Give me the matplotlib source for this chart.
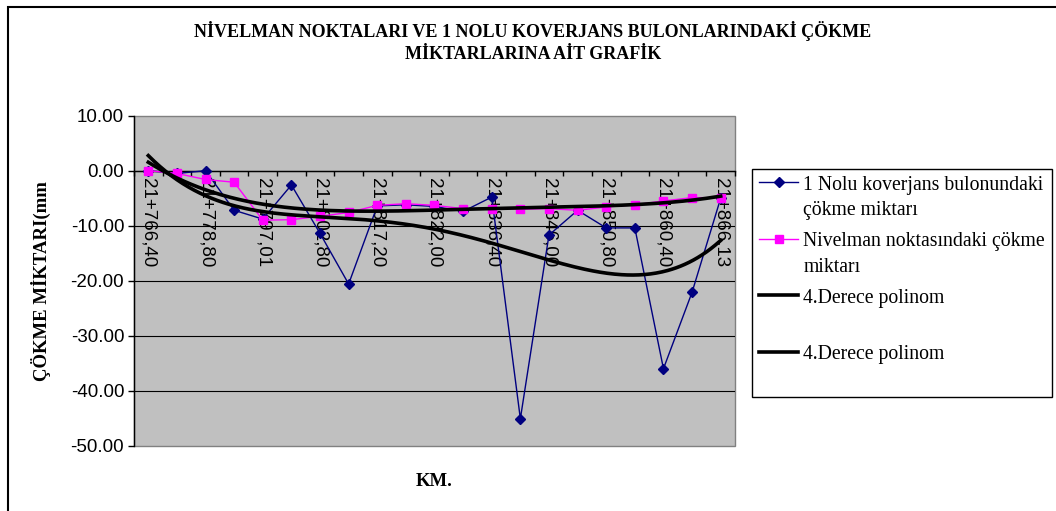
import numpy as np
import matplotlib
matplotlib.use("Agg")
import matplotlib.pyplot as plt
from matplotlib.lines import Line2D
from matplotlib.legend_handler import HandlerLine2D
from matplotlib.patches import Rectangle

# ---------------- data ----------------
km_labels = ["21+766,40", "21+778,80", "21+797,01", "21+802,80", "21+817,20",
             "21+822,00", "21+836,40", "21+846,00", "21+850,80", "21+860,40",
             "21+866,13"]
label_step = 2  # every second measuring point is labelled

bulon_cokme = [0.0, -0.5, 0.0, -7.2, -8.8, -2.6, -11.4, -20.6, -6.4, -6.2, -6.5,
               -7.4, -4.8, -45.1, -11.7, -7.2, -10.4, -10.4, -36.0, -22.1, -5.0]
nivelman_cokme = [0.0, -0.5, -1.6, -2.1, -9.0, -8.9, -8.3, -7.6, -6.3, -6.0, -6.3,
                  -6.9, -6.9, -7.0, -6.9, -7.2, -6.6, -6.2, -5.5, -4.9, -4.9]
poly_degree = 4

y_ticks = [10, 0, -10, -20, -30, -40, -50]

title_text = ("NİVELMAN NOKTALARI VE 1 NOLU KOVERJANS BULONLARINDAKİ ÇÖKME\n"
              "MİKTARLARINA AİT GRAFİK")
y_label = "ÇÖKME MİKTARI(mm"
x_label = "KM."
legend_labels = ["1 Nolu koverjans bulonundaki\nçökme miktarı",
                 "Nivelman noktasındaki çökme\nmiktarı",
                 "4.Derece polinom\n ",
                 "4.Derece polinom\n "]

# ---------------- figure ----------------
W, H = 1056, 511
fig = plt.figure(figsize=(W / 100, H / 100), dpi=100)
fig.patch.set_facecolor("white")


def fx(px):
    return px / W


def fy(py):
    return 1 - py / H


SERIF = ["Liberation Serif", "DejaVu Serif"]
SANS = ["Liberation Sans", "DejaVu Sans"]

# outer chart frame
fig.add_artist(Rectangle((fx(8), -0.2), 1.5, fy(7) + 0.2, transform=fig.transFigure,
                         fill=False, edgecolor="black", linewidth=1.5))

ax_l, ax_r, ax_t, ax_b = 134, 735, 115.7, 445.7
ax = fig.add_axes([fx(ax_l), fy(ax_b), (ax_r - ax_l) / W, (ax_b - ax_t) / H])
ax.set_facecolor("#C0C0C0")
ax.patch.set_edgecolor("#808080")
ax.patch.set_linewidth(1.0)

x = np.arange(len(bulon_cokme))
ax.set_xlim(-0.5, len(x) - 0.5)
ax.set_ylim(min(y_ticks), max(y_ticks))

# gridlines
for v in y_ticks[1:-1]:
    ax.axhline(v, color="black", linewidth=0.8, zorder=1)

h1, = ax.plot(x, bulon_cokme, color="#000080", linewidth=1.0, marker="D",
              markersize=5.2, markerfacecolor="#000080", markeredgecolor="#000080",
              zorder=3)
h2, = ax.plot(x, nivelman_cokme, color="#FF00FF", linewidth=1.0, marker="s",
              markersize=6.0, markerfacecolor="#FF00FF", markeredgecolor="#FF00FF",
              zorder=4)

xs = np.linspace(x[0], x[-1], 400)
trend_handles = []
for series in (bulon_cokme, nivelman_cokme):
    coef = np.polyfit(x + 1, series, poly_degree)
    th, = ax.plot(xs, np.polyval(coef, xs + 1), color="black", linewidth=2.6,
                  zorder=5)
    trend_handles.append(th)

# spines / axes
for s in ("top", "right"):
    ax.spines[s].set_visible(False)
ax.spines["left"].set_color("black")
ax.spines["left"].set_linewidth(1.0)
ax.spines["bottom"].set_position(("data", 0))
ax.spines["bottom"].set_color("black")
ax.spines["bottom"].set_linewidth(1.0)

ax.set_yticks(y_ticks)
ax.set_yticklabels([f"{v:.2f}" for v in y_ticks], family=SANS, fontsize=13.5)
ax.tick_params(axis="y", direction="out", length=4.3, width=1, pad=2.8,
               color="black")

ax.set_xticks(x[::label_step])
ax.set_xticklabels(km_labels, rotation=270, ha="center", va="top",
                   family=SANS, fontsize=13.5)
ax.set_xticks(np.arange(len(x) + 1) - 0.5, minor=True)
ax.tick_params(axis="x", which="major", length=0, pad=5)
ax.tick_params(axis="x", which="minor", direction="out", length=3.6, width=1,
               color="black")

# titles
fig.text(fx(533), fy(42), title_text, ha="center", va="center", family=SERIF,
         fontsize=13, fontweight="bold", linespacing=1.35)
fig.text(fx(41), fy(281), y_label, ha="center", va="center", rotation=90,
         family=SERIF, fontsize=13.5, fontweight="bold")
fig.text(fx(434), fy(481), x_label, ha="center", va="center", family=SERIF,
         fontsize=13.5, fontweight="bold")


# legend with handles aligned to first text line
class FirstLineHandler(HandlerLine2D):
    def __init__(self, dy, **kw):
        super().__init__(**kw)
        self.dy = dy

    def create_artists(self, legend, orig_handle, xdescent, ydescent, width,
                       height, fontsize, trans):
        arts = super().create_artists(legend, orig_handle, xdescent, ydescent,
                                      width, height, fontsize, trans)
        for a in arts:
            a.set_ydata(np.asarray(a.get_ydata(), dtype=float) + self.dy * fontsize)
        return arts


leg_fs = 14.2
handler = FirstLineHandler(dy=0.80, numpoints=1)
leg = fig.legend([h1, h2] + trend_handles, legend_labels,
                 loc="upper left", bbox_to_anchor=(fx(752), fy(169)),
                 bbox_transform=fig.transFigure, borderaxespad=0,
                 prop={"family": SERIF, "size": leg_fs},
                 handler_map={Line2D: handler},
                 handlelength=2.0, handletextpad=0.25, borderpad=0.35,
                 labelspacing=0.62, fancybox=False, framealpha=1,
                 edgecolor="black", facecolor="white")
leg.get_frame().set_linewidth(1.0)
for t in leg.get_texts():
    t.set_linespacing(1.45)

fig.savefig("out.png", dpi=100, facecolor="white")
